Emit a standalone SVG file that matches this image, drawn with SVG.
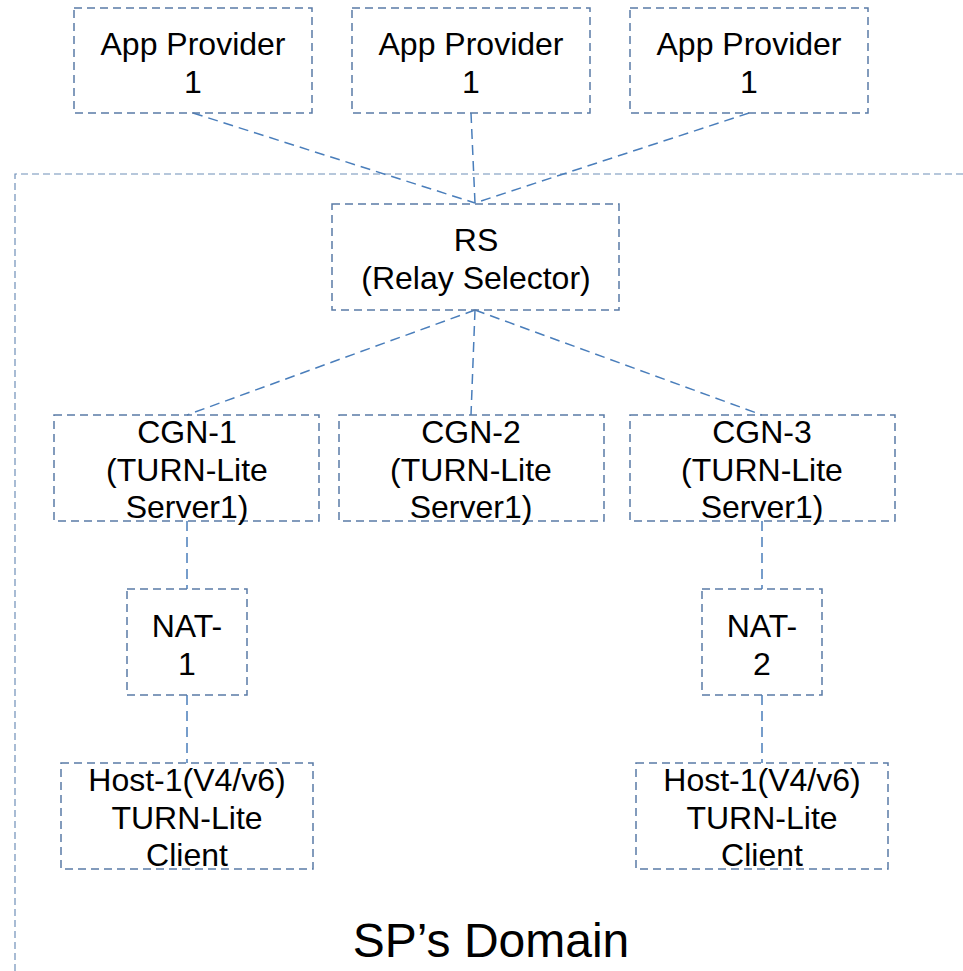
<svg xmlns="http://www.w3.org/2000/svg" width="963" height="971" viewBox="0 0 963 971">
<style>
.box{fill:none;stroke:#5a7ba6;stroke-width:1.5;stroke-dasharray:8 5}
.con{fill:none;stroke:#4a7ebb;stroke-width:1.5;stroke-dasharray:10 6}
.dom{fill:none;stroke:#6f8fb8;stroke-width:1.2;stroke-dasharray:7 4}
text{font-family:"Liberation Sans",Arial,sans-serif;font-size:32px;fill:#000;text-anchor:middle}
.big{font-size:48px}
</style>
<rect width="963" height="971" fill="#fff"/>
<g id="domain">
<path class="dom" d="M15 971 V174 H963"/>
<text class="big" x="491" y="957">SP’s Domain</text>
</g>
<g id="connectors">
<line class="con" x1="193" y1="113" x2="475" y2="203"/>
<line class="con" x1="471" y1="113" x2="475" y2="203"/>
<line class="con" x1="749" y1="113" x2="475" y2="203"/>
<line class="con" x1="475" y1="310" x2="187" y2="415"/>
<line class="con" x1="475" y1="310" x2="471" y2="415"/>
<line class="con" x1="475" y1="310" x2="762" y2="415"/>
<line class="con" x1="187" y1="521" x2="187" y2="589"/>
<line class="con" x1="187" y1="695" x2="187" y2="763"/>
<line class="con" x1="762" y1="521" x2="762" y2="589"/>
<line class="con" x1="762" y1="695" x2="762" y2="763"/>
</g>
<g id="app1"><rect class="box" x="74" y="8" width="238" height="105"/><text x="193" y="55">App Provider</text><text x="193" y="93">1</text></g>
<g id="app2"><rect class="box" x="352" y="8" width="238" height="105"/><text x="471" y="55">App Provider</text><text x="471" y="93">1</text></g>
<g id="app3"><rect class="box" x="630" y="8" width="238" height="105"/><text x="749" y="55">App Provider</text><text x="749" y="93">1</text></g>
<g id="rs"><rect class="box" x="332" y="204" width="287" height="106"/><text x="476" y="251">RS</text><text x="476" y="289">(Relay Selector)</text></g>
<g id="cgn1"><rect class="box" x="54" y="415" width="265" height="106"/><text x="187" y="443">CGN-1</text><text x="187" y="481">(TURN-Lite</text><text x="187" y="518">Server1)</text></g>
<g id="cgn2"><rect class="box" x="339" y="415" width="265" height="106"/><text x="471" y="443">CGN-2</text><text x="471" y="481">(TURN-Lite</text><text x="471" y="518">Server1)</text></g>
<g id="cgn3"><rect class="box" x="630" y="415" width="265" height="106"/><text x="762" y="443">CGN-3</text><text x="762" y="481">(TURN-Lite</text><text x="762" y="518">Server1)</text></g>
<g id="nat1"><rect class="box" x="127" y="589" width="120" height="106"/><text x="187" y="637">NAT-</text><text x="187" y="675">1</text></g>
<g id="nat2"><rect class="box" x="702" y="589" width="120" height="106"/><text x="762" y="637">NAT-</text><text x="762" y="675">2</text></g>
<g id="host1"><rect class="box" x="61" y="763" width="252" height="106"/><text x="187" y="791">Host-1(V4/v6)</text><text x="187" y="829">TURN-Lite</text><text x="187" y="866">Client</text></g>
<g id="host2"><rect class="box" x="636" y="763" width="252" height="106"/><text x="762" y="791">Host-1(V4/v6)</text><text x="762" y="829">TURN-Lite</text><text x="762" y="866">Client</text></g>
</svg>
